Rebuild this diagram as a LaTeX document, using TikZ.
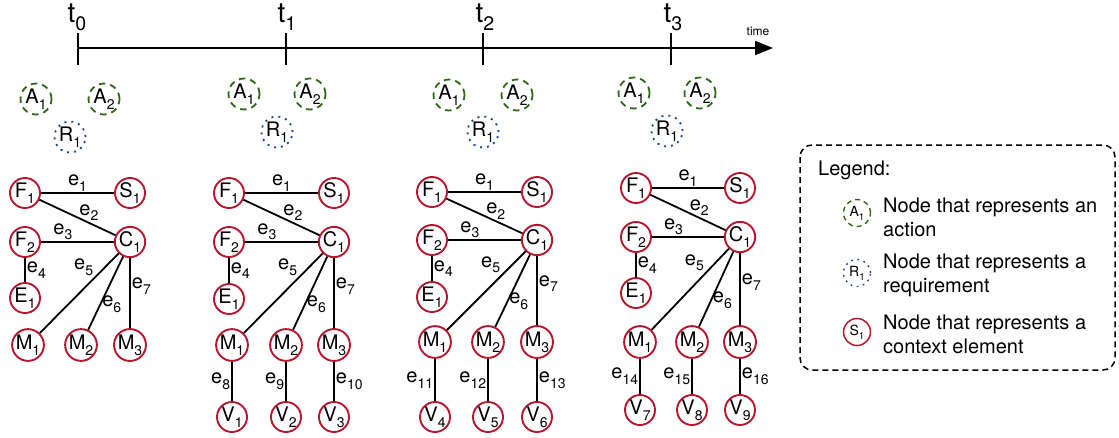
\documentclass[tikz,border=0pt]{standalone}
\usepackage{fontspec}
\setmainfont{TeX Gyre Heros}
\usetikzlibrary{arrows.meta}
\definecolor{ctxred}{RGB}{183,22,45}
\definecolor{actgreen}{RGB}{46,104,22}
\definecolor{reqblue}{RGB}{28,72,140}
\newcommand{\sbs}[1]{\raisebox{-0.55ex}{\scalebox{0.7}{#1}}}
\tikzset{
  ctx/.style={circle, draw=ctxred, line width=1.9pt, minimum size=30pt, inner sep=0pt, font=\fontsize{20}{22}\selectfont},
  act/.style={circle, draw=actgreen, line width=1.8pt, dash pattern=on 6.5pt off 5pt, minimum size=31pt, inner sep=0pt, font=\fontsize{20}{22}\selectfont},
  req/.style={circle, draw=reqblue, line width=1.8pt, dash pattern=on 2pt off 5pt, minimum size=31pt, inner sep=0pt, font=\fontsize{20}{22}\selectfont},
  edge/.style={line width=1.8pt},
  elab/.style={font=\fontsize{20}{22}\selectfont, inner sep=1pt},
  tlab/.style={anchor=south, inner sep=0pt, font=\fontsize{28}{30}\selectfont},
  legtxt/.style={anchor=west, align=left, inner sep=0pt, font=\fontsize{20}{24}\selectfont}
}
\begin{document}
\begin{tikzpicture}[x=1pt,y=-1pt]
\useasboundingbox (0,0) rectangle (1119,437);
% time axis
\coordinate (tstart) at (78,48);
\coordinate (tend) at (773,48);
\draw[line width=1.8pt,-{Triangle[length=18pt,width=14pt]}] (tstart) -- (tend);
\node[font=\fontsize{12}{14}\selectfont] (timelbl) at (758,31) {time};
\draw[line width=1.8pt] (78,33) -- (78,65);
\draw[line width=1.8pt] (286,33) -- (286,65);
\draw[line width=1.8pt] (483,33) -- (483,65);
\draw[line width=1.8pt] (671,33) -- (671,65);
\node[tlab] (t0) at (77,31) {t\sbs{0}};
\node[tlab] (t1) at (287,31) {t\sbs{1}};
\node[tlab] (t2) at (485,31) {t\sbs{2}};
\node[tlab] (t3) at (673,31) {t\sbs{3}};
% actions and requirements
\node[act] (A1a) at (36,99) {A\sbs{1}};
\node[act] (A2a) at (104,99) {A\sbs{2}};
\node[req] (R1a) at (70,137) {R\sbs{1}};
\node[act] (A1b) at (244,94) {A\sbs{1}};
\node[act] (A2b) at (310,94) {A\sbs{2}};
\node[req] (R1b) at (277,132) {R\sbs{1}};
\node[act] (A1c) at (449,95) {A\sbs{1}};
\node[act] (A2c) at (517,95) {A\sbs{2}};
\node[req] (R1c) at (483,132) {R\sbs{1}};
\node[act] (A1d) at (634,93) {A\sbs{1}};
\node[act] (A2d) at (700,93) {A\sbs{2}};
\node[req] (R1d) at (667,131) {R\sbs{1}};
% context at t0
\node[ctx] (F1a) at (25,193) {F\sbs{1}};
\node[ctx] (S1a) at (130,193) {S\sbs{1}};
\node[ctx] (F2a) at (25,242) {F\sbs{2}};
\node[ctx] (C1a) at (130,242) {C\sbs{1}};
\node[ctx] (E1a) at (25,298) {E\sbs{1}};
\node[ctx] (M1a) at (28,345) {M\sbs{1}};
\node[ctx] (M2a) at (81,345) {M\sbs{2}};
\node[ctx] (M3a) at (130,345) {M\sbs{3}};
\draw[edge] (F1a) -- node[elab,above] {e\sbs{1}} (S1a);
\draw[edge] (F1a) -- node[elab,above,pos=0.65] {e\sbs{2}} (C1a);
\draw[edge] (F2a) -- node[elab,above,pos=0.3] {e\sbs{3}} (C1a);
\draw[edge] (F2a) -- node[elab,right] {e\sbs{4}} (E1a);
\draw[edge] (C1a) -- node[elab,above left,pos=0.3] {e\sbs{5}} (M1a);
\draw[edge] (C1a) -- node[elab,right,pos=0.65] {e\sbs{6}} (M2a);
\draw[edge] (C1a) -- node[elab,right,pos=0.4] {e\sbs{7}} (M3a);
% context at t1
\node[ctx] (F1b) at (229,193) {F\sbs{1}};
\node[ctx] (S1b) at (334,193) {S\sbs{1}};
\node[ctx] (F2b) at (229,242) {F\sbs{2}};
\node[ctx] (C1b) at (334,242) {C\sbs{1}};
\node[ctx] (E1b) at (229,299) {E\sbs{1}};
\node[ctx] (M1b) at (232,345) {M\sbs{1}};
\node[ctx] (M2b) at (286,345) {M\sbs{2}};
\node[ctx] (M3b) at (334,345) {M\sbs{3}};
\node[ctx] (V1b) at (232,417) {V\sbs{1}};
\node[ctx] (V2b) at (286,417) {V\sbs{2}};
\node[ctx] (V3b) at (334,417) {V\sbs{3}};
\draw[edge] (F1b) -- node[elab,above] {e\sbs{1}} (S1b);
\draw[edge] (F1b) -- node[elab,above,pos=0.65] {e\sbs{2}} (C1b);
\draw[edge] (F2b) -- node[elab,above,pos=0.3] {e\sbs{3}} (C1b);
\draw[edge] (F2b) -- node[elab,right] {e\sbs{4}} (E1b);
\draw[edge] (C1b) -- node[elab,above left,pos=0.3] {e\sbs{5}} (M1b);
\draw[edge] (C1b) -- node[elab,right,pos=0.65] {e\sbs{6}} (M2b);
\draw[edge] (C1b) -- node[elab,right,pos=0.4] {e\sbs{7}} (M3b);
\draw[edge] (M1b) -- node[elab,left] {e\sbs{8}} (V1b);
\draw[edge] (M2b) -- node[elab,left] {e\sbs{9}} (V2b);
\draw[edge] (M3b) -- node[elab,right] {e\sbs{10}} (V3b);
% context at t2
\node[ctx] (F1c) at (432,192) {F\sbs{1}};
\node[ctx] (S1c) at (537,192) {S\sbs{1}};
\node[ctx] (F2c) at (432,240) {F\sbs{2}};
\node[ctx] (C1c) at (537,240) {C\sbs{1}};
\node[ctx] (E1c) at (432,297) {E\sbs{1}};
\node[ctx] (M1c) at (435,342) {M\sbs{1}};
\node[ctx] (M2c) at (488,342) {M\sbs{2}};
\node[ctx] (M3c) at (537,342) {M\sbs{3}};
\node[ctx] (V4c) at (435,417) {V\sbs{4}};
\node[ctx] (V5c) at (488,417) {V\sbs{5}};
\node[ctx] (V6c) at (537,417) {V\sbs{6}};
\draw[edge] (F1c) -- node[elab,above] {e\sbs{1}} (S1c);
\draw[edge] (F1c) -- node[elab,above,pos=0.65] {e\sbs{2}} (C1c);
\draw[edge] (F2c) -- node[elab,above,pos=0.3] {e\sbs{3}} (C1c);
\draw[edge] (F2c) -- node[elab,right] {e\sbs{4}} (E1c);
\draw[edge] (C1c) -- node[elab,above left,pos=0.3] {e\sbs{5}} (M1c);
\draw[edge] (C1c) -- node[elab,right,pos=0.65] {e\sbs{6}} (M2c);
\draw[edge] (C1c) -- node[elab,right,pos=0.4] {e\sbs{7}} (M3c);
\draw[edge] (M1c) -- node[elab,left] {e\sbs{11}} (V4c);
\draw[edge] (M2c) -- node[elab,left] {e\sbs{12}} (V5c);
\draw[edge] (M3c) -- node[elab,right] {e\sbs{13}} (V6c);
% context at t3
\node[ctx] (F1d) at (636,188) {F\sbs{1}};
\node[ctx] (S1d) at (740,188) {S\sbs{1}};
\node[ctx] (F2d) at (636,237) {F\sbs{2}};
\node[ctx] (C1d) at (740,237) {C\sbs{1}};
\node[ctx] (E1d) at (636,293) {E\sbs{1}};
\node[ctx] (M1d) at (640,342) {M\sbs{1}};
\node[ctx] (M2d) at (692,342) {M\sbs{2}};
\node[ctx] (M3d) at (740,342) {M\sbs{3}};
\node[ctx] (V7d) at (640,410) {V\sbs{7}};
\node[ctx] (V8d) at (692,410) {V\sbs{8}};
\node[ctx] (V9d) at (740,410) {V\sbs{9}};
\draw[edge] (F1d) -- node[elab,above] {e\sbs{1}} (S1d);
\draw[edge] (F1d) -- node[elab,above,pos=0.65] {e\sbs{2}} (C1d);
\draw[edge] (F2d) -- node[elab,above,pos=0.3] {e\sbs{3}} (C1d);
\draw[edge] (F2d) -- node[elab,right] {e\sbs{4}} (E1d);
\draw[edge] (C1d) -- node[elab,above left,pos=0.3] {e\sbs{5}} (M1d);
\draw[edge] (C1d) -- node[elab,right,pos=0.65] {e\sbs{6}} (M2d);
\draw[edge] (C1d) -- node[elab,right,pos=0.4] {e\sbs{7}} (M3d);
\draw[edge] (M1d) -- node[elab,left] {e\sbs{14}} (V7d);
\draw[edge] (M2d) -- node[elab,left] {e\sbs{15}} (V8d);
\draw[edge] (M3d) -- node[elab,right] {e\sbs{16}} (V9d);
% legend
\draw[line width=1.5pt, dash pattern=on 6pt off 4pt, rounded corners=12pt] (800,145) rectangle (1115,370);
\node[legtxt] (legtitle) at (818,170) {Legend:};
\node[act, minimum size=27pt, line width=1.4pt, dash pattern=on 5pt off 4pt, font=\fontsize{14}{15}\selectfont] (legA) at (857,213) {A\sbs{1}};
\node[req, minimum size=27pt, line width=1.4pt, dash pattern=on 1.8pt off 4.5pt, font=\fontsize{14}{15}\selectfont] (legR) at (857,273) {R\sbs{1}};
\node[ctx, minimum size=27pt, line width=1.5pt, font=\fontsize{14}{15}\selectfont] (legS) at (857,332) {S\sbs{1}};
\node[legtxt] (legAtxt) at (883,217) {Node that represents an\\action};
\node[legtxt] (legRtxt) at (883,275) {Node that represents a\\requirement};
\node[legtxt] (legStxt) at (883,334) {Node that represents a\\context element};
\end{tikzpicture}
\end{document}
